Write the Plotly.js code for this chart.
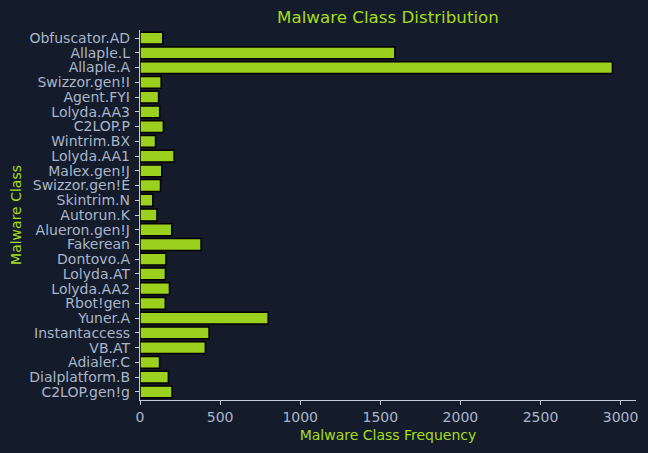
<!DOCTYPE html>
<html>
<head>
<meta charset="utf-8">
<script src="https://cdn.plot.ly/plotly-3.0.1.min.js"></script>
<style>
  html, body { margin: 0; padding: 0; background: #141c2b; }
  #chart { width: 648px; height: 453px; }
</style>
</head>
<body>
<div id="chart"></div>
<script>
// Malware classes, top to bottom as drawn
const classes = [
    'Obfuscator.AD', 'Allaple.L', 'Allaple.A', 'Swizzor.gen!I', 'Agent.FYI',
    'Lolyda.AA3', 'C2LOP.P', 'Wintrim.BX', 'Lolyda.AA1', 'Malex.gen!J',
    'Swizzor.gen!E', 'Skintrim.N', 'Autorun.K', 'Alueron.gen!J', 'Fakerean',
    'Dontovo.A', 'Lolyda.AT', 'Lolyda.AA2', 'Rbot!gen', 'Yuner.A',
    'Instantaccess', 'VB.AT', 'Adialer.C', 'Dialplatform.B', 'C2LOP.gen!g'
];
const counts = [
    142, 1591, 2949, 132, 116,
    123, 146, 97, 213, 136,
    128, 80, 106, 198, 381,
    162, 159, 184, 158, 800,
    431, 408, 122, 177, 200
];
const xTicks = [0, 500, 1000, 1500, 2000, 2500, 3000];

const bg = '#141c2b';
const barGreen = '#9bd01e';
const textGreen = '#a6dc1c';
const tickColor = '#a9b5ca';
const spineColor = '#c3cbdb';

Plotly.newPlot('chart', [{
    type: 'bar',
    orientation: 'h',
    x: counts,
    y: classes,
    width: 0.8,
    marker: { color: barGreen, line: { color: '#000000', width: 1.5 } },
    hovertemplate: '%{y}: %{x}<extra></extra>'
}], {
    width: 648,
    height: 453,
    margin: { l: 140, r: 12, t: 30, b: 53 },
    paper_bgcolor: bg,
    plot_bgcolor: bg,
    font: { family: 'DejaVu Sans, sans-serif', color: tickColor, size: 14 },
    showlegend: false,
    title: {
        text: 'Malware Class Distribution',
        font: { color: textGreen, size: 16.7 },
        x: 0.5, xref: 'paper', xanchor: 'center',
        y: 1 - 17 / 453, yref: 'container', yanchor: 'middle'
    },
    xaxis: {
        range: [0, 3096],
        tickvals: xTicks,
        ticktext: xTicks.map(String),
        showgrid: false,
        zeroline: false,
        showline: true,
        linecolor: spineColor,
        linewidth: 1.2,
        ticks: 'outside',
        ticklen: 4,
        tickcolor: spineColor,
        tickfont: { color: tickColor, size: 14 },
        title: { text: 'Malware Class Frequency', font: { color: textGreen, size: 14 }, standoff: 6 }
    },
    yaxis: {
        type: 'category',
        range: [24.55, -0.55],
        dtick: 1,
        tickmode: 'linear',
        showgrid: false,
        zeroline: false,
        showline: true,
        linecolor: spineColor,
        linewidth: 1.2,
        ticks: 'outside',
        ticklen: 4,
        tickcolor: spineColor,
        ticklabelstandoff: 2,
        tickfont: { color: tickColor, size: 14 },
        title: { text: 'Malware Class', font: { color: textGreen, size: 14 }, standoff: 4 }
    },
    bargap: 0.2
}, { displayModeBar: false, staticPlot: true });
</script>
</body>
</html>
